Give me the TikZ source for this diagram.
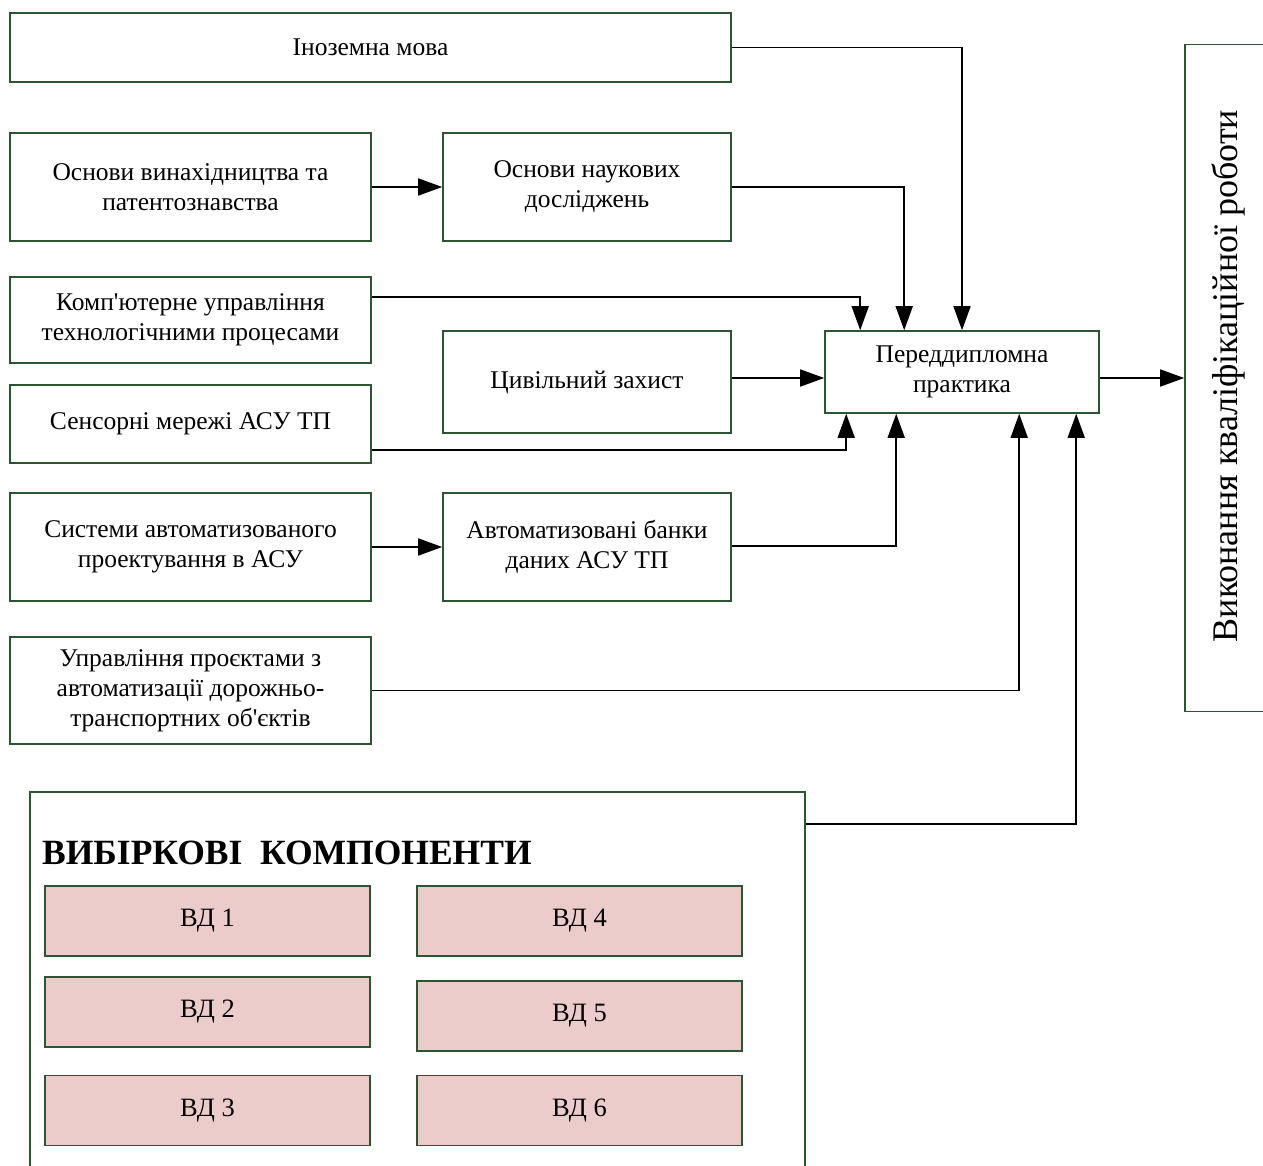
\documentclass[tikz,border=0pt]{standalone}
\usepackage{fontspec}
\setmainfont{Liberation Serif}
\usetikzlibrary{arrows.meta}
\definecolor{boxgreen}{RGB}{45,85,50}
\definecolor{vdpink}{RGB}{236,204,202}
\newcommand{\apos}{\textquotesingle}
\tikzset{
  box/.style={draw=boxgreen, line width=1.6pt, rectangle, align=center, inner sep=0pt,
    font=\fontsize{25.5}{30}\selectfont},
  vdbox/.style={box, fill=vdpink, minimum width=325pt, minimum height=70pt,
    font=\fontsize{26.5}{30}\selectfont},
  arr/.style={draw=black, line width=1.7pt, -{Triangle[length=24pt,width=17pt]}}
}
\begin{document}
\begin{tikzpicture}[x=1pt,y=-1pt]
\useasboundingbox (0,0) rectangle (1263,1165);
\fill[white] (0,0) rectangle (1263,1165);

\node[box, minimum width=721pt, minimum height=69pt] (ino) at (370.5,47.5) {Іноземна мова};
\node[box, minimum width=361pt, minimum height=108pt] (vyn) at (190.5,187) {Основи винахідництва та\\патентознавства};
\node[box, minimum width=288pt, minimum height=108pt] (nauk) at (587,187) {Основи наукових\\досліджень};
\node[box, minimum width=361pt, minimum height=86pt] (komp) at (190.5,320) {Комп\apos ютерне управління\\технологічними процесами};
\node[box, minimum width=288pt, minimum height=102pt] (tsyv) at (587,382) {Цивільний захист};
\node[box, minimum width=361pt, minimum height=78pt] (sens) at (190.5,424) {Сенсорні мережі АСУ ТП};
\node[box, minimum width=361pt, minimum height=108pt] (sapr) at (190.5,547) {Системи автоматизованого\\проектування в АСУ};
\node[box, minimum width=288pt, minimum height=108pt] (bank) at (587,547) {Автоматизовані банки\\даних АСУ ТП};
\node[box, minimum width=361pt, minimum height=107pt] (upr) at (190.5,690.5) {Управління проєктами з\\автоматизації дорожньо-\\транспортних об\apos єктів};
\node[box, minimum width=274pt, minimum height=82pt] (pered) at (962,372) {Переддипломна\\практика};

\node[box, minimum width=105pt, minimum height=667pt] (vyk) at (1237.5,378) {};
\node[rotate=90, font=\fontsize{36}{40}\selectfont] (vyktext) at (1228,376) {Виконання кваліфікаційної роботи};

\node[box, minimum width=775pt, minimum height=400pt] (vib) at (417.5,992) {};
\node[anchor=base west, inner sep=0pt, font=\fontsize{35.5}{40}\selectfont\bfseries] (vibtitle) at (42,864) {ВИБІРКОВІ\ \ КОМПОНЕНТИ};

\node[vdbox] (vd1) at (207.5,921) {ВД 1};
\node[vdbox] (vd2) at (207.5,1012) {ВД 2};
\node[vdbox] (vd3) at (207.5,1110.5) {ВД 3};
\node[vdbox] (vd4) at (579.5,921) {ВД 4};
\node[vdbox] (vd5) at (579.5,1016) {ВД 5};
\node[vdbox] (vd6) at (579.5,1110.5) {ВД 6};

% connectors
\draw[arr] (vyn.east) -- (nauk.west);
\draw[arr] (sapr.east) -- (bank.west);
\draw[arr] (ino.east) -| (pered.north);
\draw[arr] (nauk.east) -| ([xshift=80pt]pered.north west);
\draw[arr] ([yshift=23pt]komp.east) -| ([xshift=36pt]pered.north west);
\draw[arr] ([yshift=4pt]tsyv.east) -- ([yshift=-6pt]pered.west);
\draw[arr] ([yshift=-26pt]sens.east) -| ([xshift=22pt]pered.south west);
\draw[arr] ([yshift=1pt]bank.east) -| ([xshift=72pt]pered.south west);
\draw[arr] (upr.east) -| ([xshift=195pt]pered.south west);
\draw[arr] ([yshift=-33pt]vib.north east) -| ([xshift=252pt]pered.south west);
\draw[arr] ([yshift=-6pt]pered.east) -- (vyk.west);
\end{tikzpicture}
\end{document}
